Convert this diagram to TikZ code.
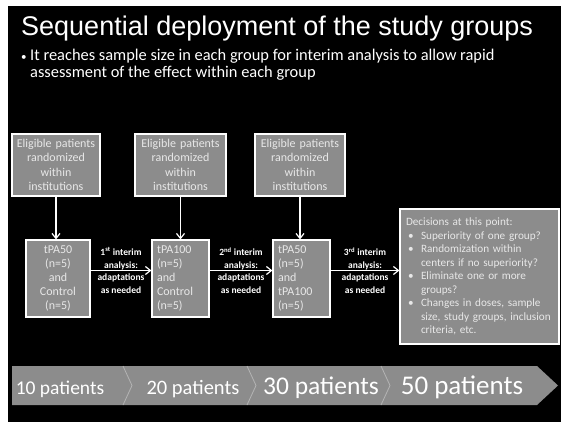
\documentclass[tikz,border=0pt]{standalone}
\usepackage{fontspec}
\setmainfont{Carlito}
\newfontfamily\titlefont{Liberation Sans}
\usetikzlibrary{arrows.meta}
\definecolor{boxgray}{HTML}{8C8C8C}
\definecolor{boxtext}{HTML}{E8E8E8}
\definecolor{sepgray}{HTML}{B4B4B4}
\newcommand{\decbullet}{\makebox[15pt][l]{\hspace{2pt}\textbullet}}
\newcommand{\decindent}{\hspace*{15pt}}

\begin{document}
\begin{tikzpicture}[x=1pt, y=-1pt, >={Straight Barb[length=5pt,width=8pt]},
    elig/.style={draw=white, line width=1.2pt, fill=boxgray, text=boxtext, align=center,
      font=\fontsize{12}{14.5}\selectfont, inner xsep=3pt, inner ysep=0pt, minimum height=62pt},
    grp/.style={draw=white, line width=1.2pt, fill=boxgray, text=boxtext,
      font=\fontsize{12}{14}\selectfont, inner xsep=5pt, inner ysep=0pt, minimum height=77pt},
    interim/.style={text=white, align=center, inner sep=0pt,
      font=\bfseries\fontsize{9.5}{12.5}\selectfont},
    flow/.style={->, white, line width=1.2pt},
    patients/.style={text=white, anchor=base, inner sep=0pt}]
  \useasboundingbox (0,0) rectangle (561,422);
  \fill[white] (0,0) rectangle (561,422);
  \fill[black] (8,6) rectangle (561,422);

  % heading
  \node[anchor=base west, inner sep=0pt, text=white, font=\titlefont\fontsize{27}{32}\selectfont]
    (TTL) at (21,36) {Sequential deployment of the study groups};
  \node[anchor=base west, inner sep=0pt, text=white, align=left, font=\fontsize{16.4}{17.5}\selectfont]
    (SUB) at (21,78) {\makebox[9pt][l]{\fontsize{11}{11}\selectfont\textbullet}It reaches sample size in each group for interim analysis to allow rapid\\
      \hspace*{9pt}assessment of the effect within each group};

  % eligible patients
  \node[elig, text width=82pt] (ELG1) at (56,165) {Eligible patients\\randomized\\within\\institutions};
  \node[elig, text width=85pt] (ELG2) at (180.5,165) {Eligible patients\\randomized\\within\\institutions};
  \node[elig, text width=84pt] (ELG3) at (300,165) {Eligible patients\\randomized\\within\\institutions};

  % study groups
  \node[grp, text width=54pt, align=center] (GRP1) at (58,278.5) {tPA50\\(n=5)\\and\\Control\\(n=5)};
  \node[grp, text width=47pt, align=left] (GRP2) at (180.5,278.5) {tPA100\\(n=5)\\and\\Control\\(n=5)};
  \node[grp, text width=47pt, align=left] (GRP3) at (301.5,278.5) {tPA50\\(n=5)\\and\\tPA100\\(n=5)};

  \node[draw=white, line width=1.2pt, fill=boxgray, text=boxtext, align=left, text width=147pt,
    inner xsep=6pt, inner ysep=0pt, minimum height=135pt, font=\fontsize{11.2}{13.5}\selectfont]
    (DEC) at (479.5,276.5) {Decisions at this point:\\
      \decbullet Superiority of one group?\\
      \decbullet Randomization within\\
      \decindent centers if no superiority?\\
      \decbullet Eliminate one or more\\
      \decindent groups?\\
      \decbullet Changes in doses, sample\\
      \decindent size, study groups, inclusion\\
      \decindent criteria, etc.};

  \draw[flow] (ELG1.south) -- (ELG1.south |- GRP1.north);
  \draw[flow] (ELG2.south) -- (ELG2.south |- GRP2.north);
  \draw[flow] (ELG3.south) -- (ELG3.south |- GRP3.north);

  \draw[flow] ([yshift=8pt]GRP1.east) -- ([yshift=8pt]GRP1.east -| GRP2.west)
    node[interim, midway] {1\textsuperscript{st} interim\\analysis:\\adaptations\\as needed};
  \draw[flow] ([yshift=8pt]GRP2.east) -- ([yshift=8pt]GRP2.east -| GRP3.west)
    node[interim, midway] {2\textsuperscript{nd} interim\\analysis:\\adaptations\\as needed};
  \draw[flow] ([yshift=8pt]GRP3.east) -- ([yshift=8pt]GRP3.east -| DEC.west)
    node[interim, midway] {3\textsuperscript{rd} interim\\analysis:\\adaptations\\as needed};

  % patient count band
  \fill[boxgray] (12,366) -- (537,366) -- (558,385.5) -- (537,405) -- (12,405) -- cycle;
  \foreach \sx in {123,247,381}
    \draw[sepgray, line width=0.8pt] (\sx,366) -- (\sx+9,385.5) -- (\sx,405);
  \node[patients, font=\fontsize{19.5}{20}\selectfont] (P10) at (60,394) {10 patients};
  \node[patients, font=\fontsize{20.5}{21}\selectfont] (P20) at (193,394) {20 patients};
  \node[patients, font=\fontsize{25.5}{26}\selectfont] (P30) at (321,394) {30 patients};
  \node[patients, font=\fontsize{27}{28}\selectfont] (P50) at (462,394) {50 patients};
\end{tikzpicture}
\end{document}
